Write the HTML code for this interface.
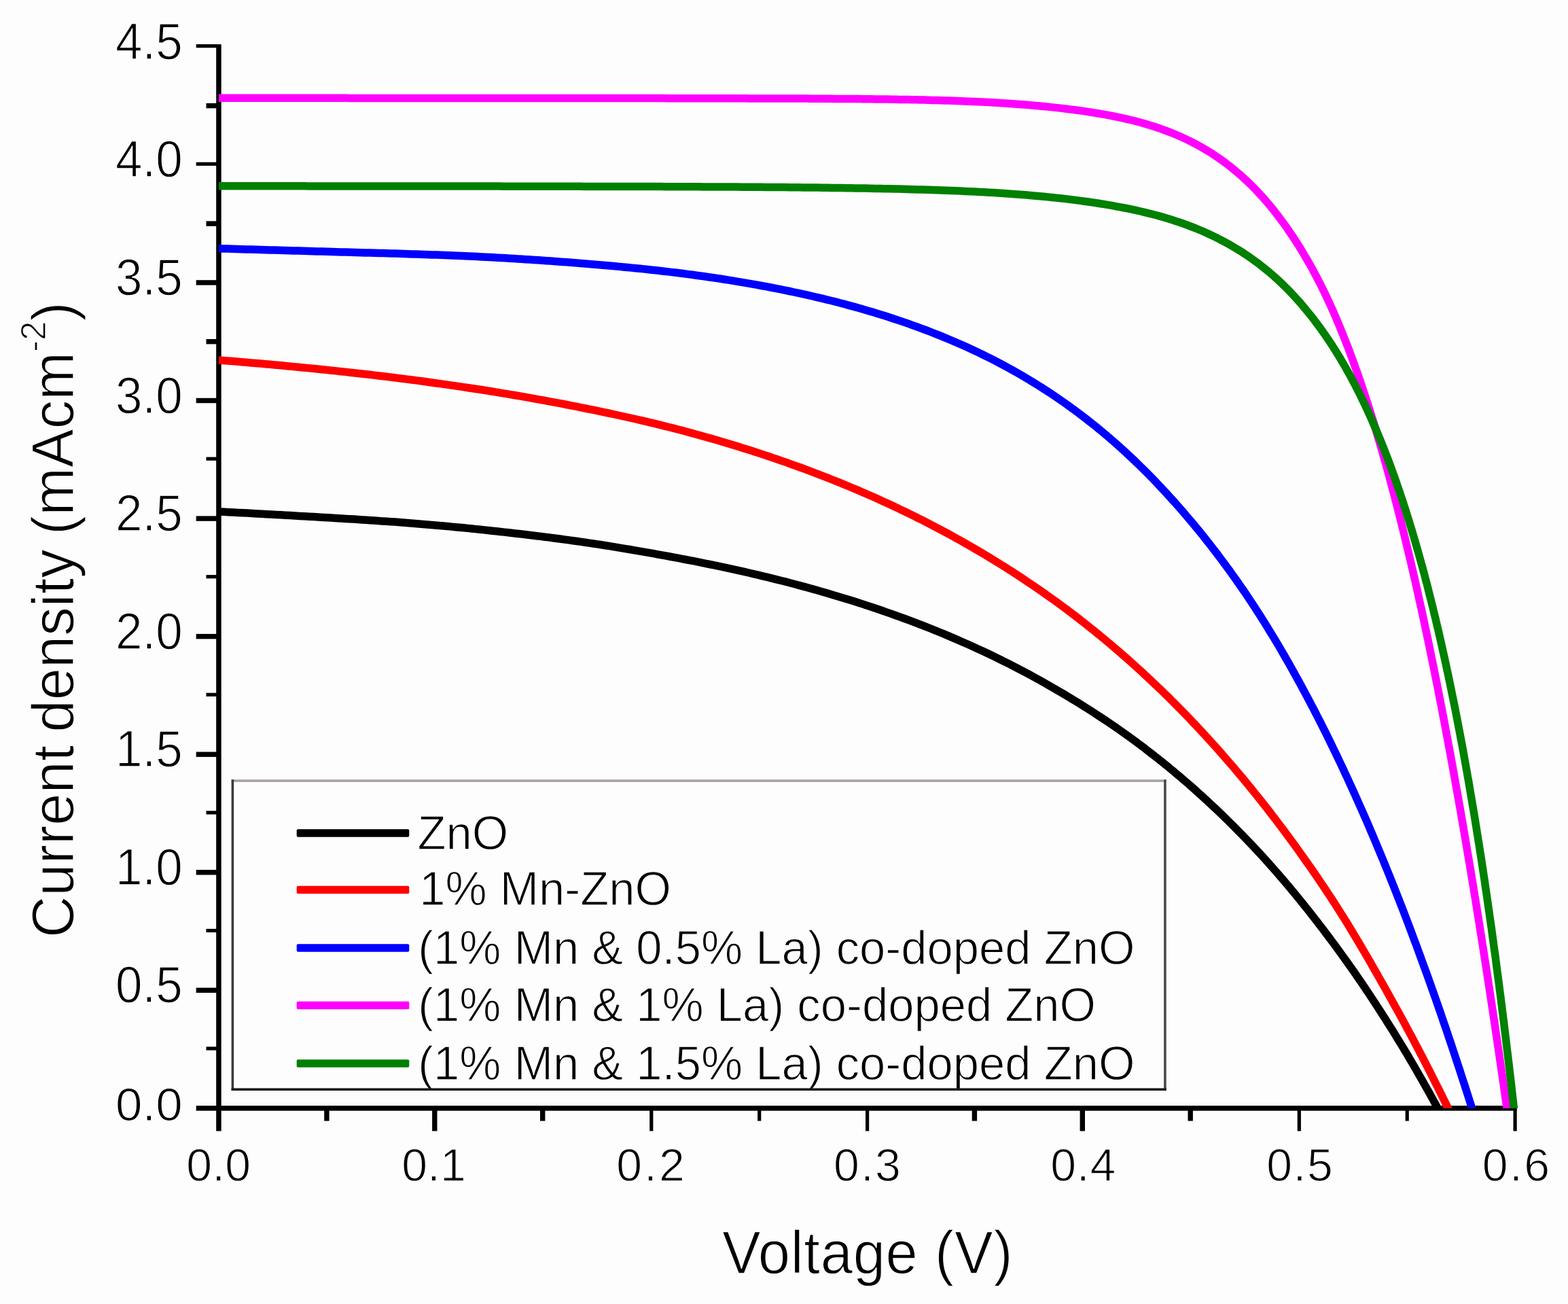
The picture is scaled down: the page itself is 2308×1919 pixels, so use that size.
<!DOCTYPE html>
<html lang="en">
<head>
<meta charset="utf-8">
<title>J-V curves</title>
<style>
html,body{margin:0;padding:0;background:#fdfdfd;}
body{width:2308px;height:1919px;overflow:hidden;}
svg{display:block;}
text{font-family:"Liberation Sans",Arial,Helvetica,sans-serif;fill:#000;stroke:#fdfdfd;stroke-width:1.25px;stroke-linejoin:round;}
.xt{font-size:68px;}
.yt{font-size:71px;}
.title{font-size:85px;}
.leg{font-size:68.8px;}
</style>
</head>
<body>
<svg width="2308" height="1919" viewBox="0 0 2308 1919">
<rect x="0" y="0" width="2308" height="1919" fill="#fdfdfd"/>
<defs><clipPath id="plot"><rect x="322" y="60" width="1912" height="1571"/></clipPath></defs>
<g fill="#000">
<rect x="318.2" y="65.2" width="7.5" height="1599.3"/>
<rect x="288.7" y="1627.2" width="1944.1" height="7.4"/>
<rect x="303.5" y="1540.4" width="15.7" height="5.2"/>
<rect x="288.7" y="1453.6" width="30.5" height="7.4"/>
<rect x="303.5" y="1366.9" width="15.7" height="5.2"/>
<rect x="288.7" y="1280.1" width="30.5" height="7.4"/>
<rect x="303.5" y="1193.3" width="15.7" height="5.2"/>
<rect x="288.7" y="1106.5" width="30.5" height="7.4"/>
<rect x="303.5" y="1019.7" width="15.7" height="5.2"/>
<rect x="288.7" y="932.9" width="30.5" height="7.4"/>
<rect x="303.5" y="846.1" width="15.7" height="5.2"/>
<rect x="288.7" y="759.4" width="30.5" height="7.4"/>
<rect x="303.5" y="672.6" width="15.7" height="5.2"/>
<rect x="288.7" y="585.8" width="30.5" height="7.4"/>
<rect x="303.5" y="499" width="15.7" height="7.4"/>
<rect x="288.7" y="412.2" width="30.5" height="7.4"/>
<rect x="303.5" y="325.4" width="15.7" height="7.4"/>
<rect x="288.7" y="238.7" width="30.5" height="5.2"/>
<rect x="303.5" y="151.9" width="15.7" height="7.4"/>
<rect x="288.7" y="65.1" width="30.5" height="5.2"/>
<rect x="477.2" y="1633.6" width="7.4" height="16"/>
<rect x="636.1" y="1633.6" width="7.4" height="30.9"/>
<rect x="795" y="1633.6" width="7.4" height="16"/>
<rect x="956.2" y="1633.6" width="5.2" height="30.9"/>
<rect x="1115.1" y="1633.6" width="5.2" height="16"/>
<rect x="1274" y="1633.6" width="5.2" height="30.9"/>
<rect x="1430.7" y="1633.6" width="7.4" height="16"/>
<rect x="1589.6" y="1633.6" width="7.4" height="30.9"/>
<rect x="1748.5" y="1633.6" width="7.4" height="16"/>
<rect x="1909.7" y="1633.6" width="5.2" height="30.9"/>
<rect x="2068.6" y="1633.6" width="5.2" height="16"/>
<rect x="2227.5" y="1633.6" width="5.2" height="30.9"/>
</g>
<g fill="none" stroke-width="11.5" stroke-linejoin="round" clip-path="url(#plot)">
<path d="M308.5 752.2 L315.5 752.6 L322.5 752.9 L329.5 753.3 L336.5 753.7 L343.5 754 L350.5 754.4 L357.5 754.8 L364.5 755.1 L371.4 755.5 L378.4 755.9 L385.4 756.3 L392.4 756.7 L399.4 757 L406.4 757.4 L413.4 757.8 L420.4 758.2 L427.3 758.6 L434.3 759 L441.3 759.4 L448.3 759.8 L455.3 760.2 L462.3 760.6 L469.3 761 L476.3 761.4 L483.3 761.8 L490.2 762.2 L497.2 762.7 L503.2 763 L509.2 763.4 L515.2 763.8 L521.2 764.1 L527.2 764.5 L533.2 764.9 L539.1 765.3 L545.1 765.7 L551.1 766.1 L557.1 766.5 L563.1 766.9 L569.1 767.3 L575.1 767.7 L581.1 768.1 L587 768.6 L593 769 L599 769.5 L605 769.9 L611 770.4 L617 770.9 L622.9 771.4 L628.9 771.9 L634.9 772.4 L640.9 772.9 L646.8 773.4 L652.8 774 L658.8 774.5 L664.8 775.1 L670.8 775.7 L676.7 776.3 L682.7 776.8 L688.7 777.4 L694.6 778 L700.6 778.6 L706.6 779.3 L712.5 779.9 L718.5 780.5 L724.5 781.2 L730.4 781.8 L736.4 782.5 L742.4 783.1 L748.3 783.8 L754.3 784.5 L760.3 785.2 L766.2 785.8 L772.2 786.5 L778.1 787.3 L784.1 788 L790.1 788.7 L796 789.4 L802 790.2 L807.9 790.9 L813.9 791.7 L819.8 792.5 L825.8 793.3 L831.7 794.1 L837.7 794.9 L843.6 795.7 L849.6 796.5 L855.5 797.4 L861.4 798.2 L867.4 799.1 L873.3 800 L879.3 800.9 L885.2 801.8 L891.1 802.7 L897 803.7 L903 804.6 L908.9 805.6 L914.8 806.6 L920.7 807.6 L926.6 808.5 L932.6 809.6 L938.5 810.6 L944.4 811.6 L950.3 812.6 L956.2 813.7 L962.1 814.7 L968 815.8 L973.9 816.9 L979.8 817.9 L985.7 819 L991.6 820.1 L997.5 821.2 L1003.4 822.3 L1009.3 823.5 L1015.2 824.6 L1021.1 825.7 L1027 826.9 L1032.9 828.1 L1038.8 829.3 L1044.6 830.5 L1050.5 831.7 L1056.4 832.9 L1062.3 834.1 L1068.1 835.4 L1075 836.9 L1081.8 838.4 L1088.6 839.9 L1095.5 841.4 L1102.3 843 L1109.1 844.6 L1115.9 846.2 L1122.7 847.8 L1129.5 849.4 L1136.3 851.1 L1143.1 852.8 L1149.9 854.5 L1156.7 856.2 L1163.5 858 L1170.2 859.8 L1177 861.6 L1183.8 863.4 L1190.5 865.3 L1197.3 867.1 L1204 869 L1210.7 871 L1217.4 872.9 L1224.2 874.9 L1230.9 876.9 L1237.6 878.9 L1244.3 880.9 L1251 883 L1257.6 885.1 L1264.3 887.2 L1271 889.4 L1277.6 891.6 L1284.3 893.8 L1290.9 896 L1297.5 898.3 L1304.1 900.6 L1310.7 902.9 L1317.3 905.2 L1323.9 907.6 L1330.5 910 L1337.1 912.4 L1343.6 914.9 L1350.2 917.4 L1356.7 919.9 L1363.2 922.4 L1369.7 925 L1376.2 927.6 L1382.7 930.3 L1389.2 932.9 L1395.6 935.6 L1402.1 938.4 L1408.5 941.1 L1414.9 943.9 L1421.3 946.7 L1427.7 949.6 L1434.1 952.5 L1440.5 955.4 L1446.8 958.3 L1453.1 961.3 L1459.5 964.3 L1465.8 967.4 L1472.1 970.5 L1478.3 973.6 L1484.6 976.7 L1490.8 979.9 L1497 983.1 L1503.2 986.3 L1508.6 989.1 L1513.8 991.9 L1519.1 994.8 L1524.4 997.7 L1529.6 1000.6 L1534.9 1003.5 L1540.1 1006.4 L1545.3 1009.4 L1550.5 1012.4 L1555.7 1015.4 L1560.9 1018.4 L1566.1 1021.5 L1571.2 1024.6 L1576.4 1027.7 L1581.5 1030.8 L1586.6 1033.9 L1591.7 1037.1 L1596.8 1040.3 L1601.8 1043.5 L1606.9 1046.7 L1611.9 1050 L1617 1053.3 L1622 1056.6 L1627 1059.9 L1632 1063.2 L1636.9 1066.6 L1641.9 1070 L1646.8 1073.4 L1651.7 1076.9 L1656.6 1080.4 L1661.5 1083.9 L1666.3 1087.4 L1671.2 1090.9 L1676 1094.5 L1680.8 1098.1 L1685.6 1101.7 L1690.3 1105.4 L1695.1 1109.1 L1699.8 1112.8 L1704.5 1116.5 L1709.2 1120.2 L1713.9 1124 L1718.6 1127.8 L1723.2 1131.6 L1727.8 1135.4 L1732.4 1139.3 L1737 1143.2 L1741.6 1147.1 L1746.1 1151 L1750.7 1154.9 L1755.2 1158.9 L1759.7 1162.9 L1764.1 1166.9 L1768.6 1170.9 L1773 1174.9 L1777.4 1179 L1781.8 1183.1 L1786.2 1187.2 L1790.6 1191.3 L1794.9 1195.4 L1799.3 1199.6 L1803.6 1203.8 L1807.9 1208 L1812.1 1212.2 L1816.4 1216.4 L1820.6 1220.7 L1824.8 1225 L1829 1229.2 L1833.2 1233.6 L1837.4 1237.9 L1841.5 1242.2 L1845.6 1246.6 L1849.7 1251 L1853.8 1255.4 L1857.9 1259.8 L1861.9 1264.3 L1865.9 1268.7 L1869.9 1273.2 L1873.9 1277.7 L1877.9 1282.2 L1881.8 1286.7 L1885.7 1291.3 L1889.6 1295.8 L1893.5 1300.4 L1897.4 1305 L1901.2 1309.6 L1905 1314.2 L1908.9 1318.9 L1912.6 1323.5 L1916.4 1328.2 L1920.2 1332.9 L1923.9 1337.5 L1927.7 1342.2 L1931.4 1347 L1935.1 1351.7 L1938.8 1356.4 L1942.4 1361.2 L1946.1 1365.9 L1949.7 1370.7 L1953.3 1375.5 L1956.9 1380.3 L1960.5 1385.1 L1964.1 1389.9 L1967.6 1394.7 L1971.2 1399.6 L1974.7 1404.5 L1978.2 1409.3 L1981.7 1414.2 L1985.2 1419.1 L1988.6 1424 L1992.7 1429.7 L1996.7 1435.5 L2000.6 1441.2 L2004.6 1447 L2008.5 1452.8 L2012.4 1458.6 L2016.3 1464.4 L2020.2 1470.3 L2024 1476.1 L2027.8 1482 L2031.6 1487.9 L2035.4 1493.8 L2039.2 1499.7 L2042.9 1505.6 L2046.6 1511.5 L2050.4 1517.4 L2054 1523.4 L2057.7 1529.4 L2061.3 1535.3 L2065 1541.3 L2068.6 1547.3 L2072.2 1553.3 L2075.7 1559.4 L2079.3 1565.4 L2082.8 1571.4 L2086.3 1577.5 L2089.8 1583.6 L2093.3 1589.6 L2096.7 1595.7 L2100.2 1601.8 L2103.6 1607.9 L2107 1614.1 L2110.4 1620.2 L2113.7 1626.3 L2117.1 1632.5 L2120.4 1638.6 L2123.7 1644.8 L2127 1651 L2130.3 1657.1 L2133.6 1663.3 L2136.8 1669.5" stroke="#000000"/>
<path d="M299.8 528.3 L306.8 528.8 L313.8 529.3 L320.7 529.9 L327.7 530.4 L334.7 531 L341.7 531.6 L348.6 532.1 L355.6 532.7 L362.6 533.3 L369.6 533.9 L376.5 534.5 L383.5 535.1 L390.5 535.7 L397.4 536.3 L404.4 537 L411.4 537.6 L418.4 538.3 L425.3 538.9 L432.3 539.6 L439.2 540.3 L446.2 540.9 L453.2 541.6 L460.1 542.3 L467.1 543 L474.1 543.7 L481 544.4 L488 545.2 L494.9 545.9 L501.9 546.7 L508.9 547.4 L515.8 548.2 L522.8 549 L529.7 549.7 L536.7 550.5 L543.6 551.3 L550.6 552.1 L557.5 553 L564.5 553.8 L571.4 554.6 L578.4 555.5 L585.3 556.4 L592.2 557.2 L599.2 558.1 L606.1 559 L613.1 559.9 L620 560.8 L626.9 561.8 L633.9 562.7 L640.8 563.7 L647.7 564.6 L654.6 565.6 L661.6 566.6 L668.5 567.6 L675.4 568.6 L682.3 569.6 L689.3 570.7 L696.2 571.7 L703.1 572.8 L710 573.8 L716.9 574.9 L723.8 576 L730.7 577.1 L737.6 578.3 L744.5 579.4 L751.4 580.6 L758.3 581.7 L765.2 582.9 L772.1 584.1 L779 585.3 L785.9 586.6 L792.8 587.8 L799.7 589 L806.5 590.3 L813.4 591.6 L820.3 592.9 L827.2 594.2 L834 595.5 L840.9 596.9 L847.8 598.2 L854.6 599.6 L861.5 601 L868.3 602.3 L875.2 603.7 L882 605.2 L888.9 606.6 L895.7 608 L902.6 609.5 L909.4 611 L916.2 612.5 L923.1 614 L929.9 615.5 L936.7 617 L943.5 618.6 L950.4 620.2 L957.2 621.8 L964 623.4 L970.8 625.1 L977.6 626.8 L984.3 628.5 L991.1 630.2 L997.9 632 L1004.7 633.7 L1011.4 635.5 L1018.2 637.4 L1024.9 639.2 L1031.7 641.1 L1038.4 643 L1045.1 644.9 L1051.9 646.8 L1058.6 648.8 L1065.3 650.7 L1072 652.7 L1078.7 654.8 L1085.4 656.8 L1092.1 658.9 L1098.7 661 L1105.4 663.1 L1112.1 665.2 L1118.7 667.4 L1125.4 669.6 L1132 671.8 L1138.6 674.1 L1145.2 676.3 L1151.8 678.6 L1158.5 680.9 L1165 683.3 L1171.6 685.6 L1178.2 688 L1184.8 690.4 L1191.3 692.9 L1197.9 695.3 L1204.4 697.8 L1210.9 700.3 L1217.5 702.9 L1224 705.5 L1230.5 708.1 L1236.9 710.7 L1243.4 713.3 L1249.9 716 L1256.3 718.7 L1262.8 721.4 L1269.2 724.2 L1275.6 727 L1282 729.8 L1288.4 732.6 L1294.8 735.5 L1301.2 738.4 L1307.5 741.3 L1313.9 744.3 L1320.2 747.2 L1326.5 750.3 L1332.8 753.3 L1339.1 756.4 L1345.4 759.4 L1351.6 762.6 L1357.9 765.7 L1364.1 768.9 L1370.3 772.1 L1376.5 775.3 L1382.7 778.6 L1388.9 781.9 L1395.1 785.2 L1401.2 788.5 L1407.3 791.9 L1413.5 795.3 L1419.5 798.8 L1425.6 802.2 L1431.7 805.7 L1437.7 809.3 L1443.8 812.8 L1449.8 816.4 L1455.8 820 L1461.7 823.6 L1467.7 827.3 L1473.6 831 L1479.6 834.7 L1485.5 838.5 L1491.4 842.2 L1497.2 846.1 L1503.1 849.9 L1508.9 853.8 L1514.7 857.7 L1520.5 861.6 L1526.3 865.5 L1532.1 869.5 L1537.8 873.5 L1543.5 877.6 L1549.2 881.6 L1554.9 885.7 L1560.6 889.8 L1566.2 894 L1571.8 898.2 L1577.4 902.4 L1582.9 906.6 L1588.5 910.9 L1594 915.2 L1599.5 919.5 L1605 923.9 L1610.5 928.3 L1615.9 932.7 L1621.3 937.1 L1626.7 941.6 L1632.1 946.1 L1637.4 950.6 L1642.7 955.1 L1648 959.7 L1653.3 964.3 L1658.6 968.9 L1663.8 973.6 L1669 978.2 L1674.2 982.9 L1679.4 987.6 L1684.6 992.4 L1689.7 997.2 L1694.8 1001.9 L1699.9 1006.8 L1704.9 1011.6 L1710 1016.4 L1715 1021.3 L1720 1026.2 L1725 1031.2 L1729.9 1036.1 L1734.8 1041.1 L1739.7 1046.1 L1744.6 1051.1 L1749.5 1056.1 L1754.3 1061.2 L1759.2 1066.3 L1763.9 1071.4 L1768.7 1076.5 L1773.5 1081.6 L1778.2 1086.8 L1782.9 1092 L1787.6 1097.2 L1792.3 1102.4 L1796.9 1107.6 L1801.5 1112.9 L1806.1 1118.2 L1810.7 1123.5 L1815.3 1128.8 L1819.8 1134.1 L1824.3 1139.5 L1828.8 1144.8 L1833.3 1150.2 L1837.7 1155.6 L1842.1 1161 L1846.5 1166.5 L1850.9 1171.9 L1855.3 1177.4 L1859.6 1182.9 L1864 1188.4 L1868.3 1193.9 L1872.5 1199.5 L1876.8 1205 L1881 1210.6 L1885.3 1216.2 L1889.5 1221.8 L1893.6 1227.4 L1897.8 1233 L1901.9 1238.7 L1906.1 1244.3 L1910.2 1250 L1914.2 1255.7 L1918.3 1261.4 L1922.3 1267.1 L1926.4 1272.8 L1930.4 1278.6 L1934.3 1284.3 L1938.3 1290.1 L1942.2 1295.9 L1946.2 1301.7 L1950.1 1307.5 L1953.9 1313.3 L1957.8 1319.2 L1961.6 1325 L1965.4 1330.9 L1969.2 1336.8 L1972.9 1342.7 L1976.7 1348.6 L1980.4 1354.6 L1984.1 1360.5 L1987.7 1366.5 L1991.3 1372.5 L1994.9 1378.5 L1998.5 1384.5 L2002.1 1390.5 L2005.6 1396.6 L2009.2 1402.6 L2012.7 1408.6 L2016.2 1414.7 L2019.7 1420.8 L2023.1 1426.8 L2026.6 1432.9 L2030.1 1439 L2033.5 1445.1 L2037 1451.2 L2040.4 1457.3 L2043.8 1463.4 L2047.2 1469.5 L2050.6 1475.6 L2054 1481.7 L2057.4 1487.8 L2060.8 1494 L2064.1 1500.1 L2067.5 1506.3 L2070.8 1512.4 L2074.1 1518.6 L2077.4 1524.7 L2080.7 1530.9 L2083.9 1537.1 L2087.2 1543.3 L2090.4 1549.5 L2093.7 1555.7 L2096.9 1561.9 L2100.1 1568.1 L2103.3 1574.4 L2106.4 1580.6 L2109.6 1586.8 L2112.7 1593.1 L2115.9 1599.3 L2119 1605.6 L2122.1 1611.9 L2125.2 1618.1 L2128.3 1624.4 L2131.3 1630.7 L2134.4 1637 L2137.4 1643.3 L2140.4 1649.6 L2143.4 1655.9 L2146.4 1662.3 L2149.4 1668.6" stroke="#ff0000"/>
<path d="M292.3 365.1 L299.3 365.3 L306.3 365.4 L313.3 365.6 L320.3 365.8 L327.3 366 L334.3 366.1 L341.3 366.3 L348.3 366.5 L355.3 366.7 L362.3 366.9 L369.3 367.1 L376.3 367.3 L383.3 367.5 L390.3 367.7 L397.3 367.9 L404.3 368.1 L411.3 368.3 L418.3 368.5 L425.3 368.7 L432.3 368.9 L439.3 369.1 L446.3 369.3 L453.3 369.5 L460.3 369.7 L467.3 369.9 L474.3 370.1 L481.3 370.3 L488.3 370.5 L495.3 370.7 L502.3 370.9 L509.2 371.1 L516.2 371.3 L523.2 371.5 L530.2 371.7 L537.2 371.9 L544.2 372 L551.2 372.2 L558.2 372.4 L564.2 372.6 L570.2 372.8 L576.2 372.9 L582.2 373.1 L588.2 373.3 L594.2 373.5 L600.2 373.7 L606.2 373.9 L612.2 374.1 L618.2 374.3 L624.2 374.5 L630.2 374.7 L636.2 374.9 L642.2 375.1 L648.2 375.3 L654.2 375.5 L660.2 375.8 L666.2 376 L672.2 376.3 L678.2 376.5 L684.2 376.8 L690.2 377 L696.1 377.3 L702.1 377.6 L708.1 377.9 L714.1 378.2 L720.1 378.5 L726.1 378.8 L732.1 379.2 L738.1 379.5 L744.1 379.8 L750.1 380.2 L756.1 380.5 L762.1 380.9 L768 381.3 L774 381.7 L780 382 L786 382.4 L792 382.8 L798 383.2 L804 383.7 L810 384.1 L815.9 384.5 L821.9 384.9 L827.9 385.4 L833.9 385.8 L839.9 386.3 L845.9 386.7 L851.8 387.2 L857.8 387.7 L863.8 388.2 L869.8 388.7 L875.8 389.2 L881.8 389.7 L887.7 390.2 L893.7 390.7 L899.7 391.3 L905.7 391.8 L911.6 392.4 L917.6 392.9 L923.6 393.5 L929.6 394.1 L935.5 394.7 L941.5 395.3 L947.5 395.9 L953.4 396.5 L959.4 397.2 L965.4 397.8 L971.3 398.5 L977.3 399.2 L983.3 399.9 L989.2 400.6 L995.2 401.3 L1001.1 402 L1007.1 402.8 L1013 403.6 L1019 404.3 L1024.9 405.2 L1030.9 406 L1036.8 406.8 L1042.8 407.7 L1048.7 408.5 L1054.6 409.4 L1060.6 410.3 L1066.5 411.2 L1072.4 412.2 L1078.4 413.1 L1084.3 414.1 L1090.2 415.1 L1096.1 416.1 L1102 417.1 L1107.9 418.2 L1113.8 419.2 L1120.7 420.5 L1127.6 421.7 L1134.5 423 L1141.4 424.4 L1148.2 425.7 L1155.1 427.1 L1161.9 428.5 L1168.8 430 L1175.6 431.4 L1182.5 432.9 L1189.3 434.4 L1196.1 436 L1202.9 437.6 L1209.7 439.2 L1216.5 440.8 L1223.3 442.5 L1230.1 444.2 L1236.9 446 L1243.7 447.7 L1250.4 449.6 L1257.2 451.4 L1263.9 453.3 L1270.6 455.2 L1277.3 457.2 L1284 459.1 L1290.7 461.2 L1297.4 463.2 L1304.1 465.3 L1310.7 467.5 L1317.4 469.7 L1324 471.9 L1330.6 474.1 L1337.2 476.4 L1343.8 478.8 L1350.4 481.2 L1356.9 483.6 L1363.5 486 L1370 488.5 L1376.5 491.1 L1383 493.7 L1389.5 496.3 L1395.9 499 L1402.3 501.7 L1408.8 504.5 L1415.2 507.3 L1421.5 510.1 L1427.9 513 L1434.2 516 L1440.5 518.9 L1446.8 522 L1453.1 525.1 L1459.3 528.2 L1465.6 531.4 L1471.7 534.6 L1477.9 537.9 L1484 541.2 L1490.2 544.6 L1496.2 548 L1502.3 551.5 L1508.3 555 L1514.3 558.6 L1520.3 562.2 L1526.2 565.9 L1532.2 569.6 L1538 573.4 L1543.9 577.2 L1549.7 581.1 L1555.5 585 L1561.3 588.9 L1567 592.9 L1572.7 597 L1578.3 601.1 L1584 605.2 L1589.5 609.4 L1595.1 613.6 L1600.6 617.9 L1606.1 622.2 L1611.6 626.6 L1617 631 L1622.4 635.4 L1627.7 639.9 L1633 644.4 L1638.3 649 L1643.6 653.6 L1648.8 658.3 L1654 663 L1659.1 667.7 L1664.2 672.5 L1669.3 677.3 L1674.3 682.1 L1679.3 687 L1684.3 691.9 L1689.2 696.8 L1694.1 701.8 L1699 706.8 L1703.8 711.9 L1708.6 717 L1713.4 722.1 L1718.1 727.2 L1722.8 732.4 L1727.5 737.5 L1732.2 742.8 L1736.8 748 L1741.4 753.3 L1745.9 758.6 L1750.5 763.9 L1755 769.2 L1759.4 774.6 L1763.9 780 L1768.3 785.4 L1772.7 790.9 L1777 796.4 L1781.4 801.9 L1785.6 807.4 L1789.9 812.9 L1794.1 818.5 L1798.3 824.1 L1802.5 829.7 L1806.6 835.3 L1810.8 841 L1814.8 846.7 L1818.9 852.4 L1822.9 858.1 L1826.9 863.9 L1830.9 869.6 L1834.8 875.4 L1838.7 881.3 L1842.6 887.1 L1846.4 892.9 L1850.2 898.8 L1854 904.7 L1857.7 910.6 L1861.5 916.5 L1865.2 922.5 L1868.8 928.4 L1872.5 934.4 L1876.1 940.4 L1879.7 946.4 L1883.3 952.4 L1886.8 958.5 L1890.3 964.5 L1893.8 970.6 L1897.3 976.7 L1900.7 982.8 L1904.1 988.9 L1907.5 995 L1910.9 1001.1 L1914.3 1007.3 L1917.6 1013.4 L1920.9 1019.6 L1924.2 1025.8 L1927.5 1031.9 L1930.7 1038.1 L1934 1044.3 L1937.2 1050.6 L1940.4 1056.8 L1943.6 1063 L1946.7 1069.3 L1949.9 1075.5 L1953 1081.8 L1956.1 1088.1 L1959.2 1094.4 L1962.2 1100.7 L1965.3 1107 L1968.3 1113.3 L1971.3 1119.6 L1974.3 1125.9 L1977.3 1132.3 L1980.2 1138.6 L1983.2 1144.9 L1986.1 1151.3 L1989 1157.7 L1991.9 1164 L1994.8 1170.4 L1997.7 1176.8 L2000.5 1183.2 L2003.4 1189.6 L2006.2 1196 L2009 1202.4 L2011.8 1208.8 L2014.6 1215.3 L2017.3 1221.7 L2020.1 1228.1 L2022.8 1234.6 L2025.5 1241 L2028.2 1247.5 L2030.9 1254 L2033.6 1260.4 L2036.3 1266.9 L2038.9 1273.4 L2041.6 1279.9 L2044.2 1286.3 L2046.8 1292.8 L2049.4 1299.3 L2052 1305.8 L2054.6 1312.3 L2057.1 1318.9 L2059.7 1325.4 L2062.2 1331.9 L2064.8 1338.4 L2067.3 1345 L2069.8 1351.5 L2072.3 1358 L2074.8 1364.6 L2077.2 1371.1 L2079.7 1377.7 L2082.1 1384.2 L2084.6 1390.8 L2087 1397.4 L2089.4 1403.9 L2091.8 1410.5 L2094.2 1417.1 L2096.6 1423.7 L2099 1430.2 L2101.4 1436.8 L2103.7 1443.4 L2106.1 1450 L2108.4 1456.6 L2110.8 1463.2 L2113.1 1469.8 L2115.4 1476.4 L2117.7 1483 L2120 1489.6 L2122.3 1496.3 L2124.5 1502.9 L2126.8 1509.5 L2129.1 1516.1 L2131.3 1522.8 L2133.5 1529.4 L2135.8 1536 L2138 1542.7 L2140.2 1549.3 L2142.4 1556 L2144.6 1562.6 L2146.8 1569.3 L2149 1575.9 L2151.1 1582.6 L2153.3 1589.2 L2155.5 1595.9 L2157.6 1602.5 L2159.8 1609.2 L2161.9 1615.9 L2164 1622.5 L2166.1 1629.2 L2168.2 1635.9 L2170.3 1642.6 L2172.4 1649.2 L2174.5 1655.9 L2176.6 1662.6" stroke="#0000ff"/>
<path d="M292.4 144.2 L298.4 144.2 L304.4 144.3 L310.4 144.3 L316.4 144.3 L322.4 144.3 L328.4 144.3 L334.4 144.3 L340.4 144.3 L346.4 144.3 L352.4 144.3 L358.4 144.3 L364.4 144.3 L370.4 144.3 L376.4 144.3 L382.4 144.3 L388.4 144.3 L394.4 144.3 L400.4 144.3 L406.4 144.3 L412.4 144.3 L418.4 144.3 L424.4 144.3 L430.4 144.3 L436.4 144.3 L442.4 144.3 L448.4 144.3 L454.4 144.3 L460.4 144.3 L466.4 144.3 L472.4 144.3 L478.4 144.3 L484.4 144.3 L490.4 144.3 L496.4 144.3 L502.4 144.3 L508.4 144.3 L514.4 144.4 L520.4 144.4 L526.4 144.4 L532.4 144.4 L538.4 144.4 L544.4 144.4 L550.4 144.4 L556.4 144.4 L562.4 144.4 L568.4 144.4 L574.4 144.4 L580.4 144.4 L586.4 144.4 L592.4 144.4 L598.4 144.4 L604.4 144.4 L610.4 144.4 L616.4 144.4 L622.4 144.4 L628.4 144.4 L634.4 144.4 L640.4 144.4 L646.4 144.4 L652.4 144.4 L658.4 144.4 L664.4 144.4 L670.4 144.4 L676.4 144.4 L682.4 144.4 L688.4 144.4 L694.4 144.4 L700.4 144.4 L706.4 144.4 L712.4 144.5 L718.4 144.5 L724.4 144.5 L730.4 144.5 L736.4 144.5 L742.4 144.5 L748.4 144.5 L754.4 144.5 L760.4 144.5 L766.4 144.5 L772.4 144.5 L778.4 144.5 L784.4 144.5 L790.4 144.5 L796.4 144.5 L802.4 144.5 L808.4 144.5 L814.4 144.5 L820.4 144.5 L826.4 144.5 L832.4 144.5 L838.4 144.5 L844.4 144.5 L850.4 144.5 L856.4 144.5 L862.4 144.5 L868.4 144.5 L874.4 144.6 L880.4 144.6 L886.4 144.6 L892.4 144.6 L898.4 144.6 L904.4 144.6 L910.4 144.6 L916.4 144.6 L922.4 144.6 L928.4 144.6 L934.4 144.6 L940.4 144.6 L946.4 144.6 L952.4 144.6 L958.4 144.6 L964.4 144.6 L970.4 144.6 L976.4 144.6 L982.4 144.7 L988.4 144.7 L994.4 144.7 L1000.4 144.7 L1006.4 144.7 L1012.4 144.7 L1018.4 144.7 L1024.4 144.7 L1030.4 144.7 L1036.4 144.7 L1042.4 144.7 L1048.4 144.7 L1054.4 144.8 L1060.4 144.8 L1066.4 144.8 L1072.4 144.8 L1078.4 144.8 L1084.4 144.8 L1090.4 144.8 L1096.4 144.8 L1102.4 144.9 L1108.4 144.9 L1114.4 144.9 L1120.4 144.9 L1126.4 144.9 L1132.4 144.9 L1138.4 145 L1144.4 145 L1150.4 145 L1156.4 145 L1162.4 145 L1168.4 145.1 L1174.4 145.1 L1180.4 145.1 L1186.4 145.1 L1192.4 145.2 L1198.4 145.2 L1204.4 145.2 L1210.4 145.3 L1216.4 145.3 L1222.4 145.3 L1228.4 145.4 L1234.4 145.4 L1240.4 145.4 L1246.4 145.5 L1252.4 145.5 L1258.4 145.6 L1264.4 145.6 L1270.4 145.7 L1276.4 145.7 L1282.4 145.8 L1288.4 145.9 L1294.4 145.9 L1300.4 146 L1306.4 146.1 L1312.4 146.2 L1318.4 146.3 L1324.4 146.4 L1330.4 146.5 L1336.4 146.6 L1342.4 146.7 L1348.4 146.8 L1354.4 147 L1360.4 147.1 L1366.4 147.2 L1372.4 147.4 L1378.4 147.6 L1384.4 147.7 L1390.4 147.9 L1396.4 148.1 L1402.4 148.3 L1408.4 148.5 L1414.4 148.8 L1420.4 149 L1426.4 149.2 L1432.4 149.5 L1438.4 149.8 L1444.4 150 L1450.4 150.3 L1456.3 150.6 L1462.3 151 L1468.3 151.3 L1474.3 151.7 L1480.3 152 L1486.3 152.4 L1493.3 152.9 L1500.3 153.4 L1507.2 154 L1514.2 154.6 L1521.2 155.2 L1528.2 155.8 L1535.1 156.4 L1542.1 157.1 L1549 157.9 L1556 158.6 L1562.9 159.4 L1569.9 160.2 L1576.8 161.1 L1583.8 162 L1590.7 162.9 L1597.6 163.9 L1604.5 165 L1611.4 166.1 L1618.3 167.2 L1625.2 168.4 L1632 169.7 L1638.9 171 L1645.7 172.4 L1652.5 173.8 L1659.3 175.4 L1666.1 177 L1672.9 178.7 L1679.6 180.5 L1686.3 182.4 L1693 184.4 L1699.6 186.5 L1706.2 188.7 L1712.8 191.1 L1719.3 193.5 L1725.8 196 L1732.2 198.7 L1738.6 201.5 L1744.9 204.4 L1751.1 207.4 L1757.3 210.5 L1763.4 213.8 L1769.5 217.2 L1775.5 220.7 L1781.4 224.3 L1787.2 228.1 L1793 232 L1798.7 236 L1804.3 240.1 L1809.8 244.3 L1815.2 248.7 L1820.5 253.1 L1825.8 257.6 L1831 262.3 L1836.1 267 L1841.1 271.8 L1846 276.8 L1850.8 281.8 L1855.5 286.9 L1860.2 292 L1864.8 297.3 L1869.3 302.6 L1873.7 308 L1878 313.5 L1882.2 319 L1886.4 324.6 L1890.5 330.2 L1894.6 335.9 L1898.5 341.7 L1902.5 347.5 L1906.3 353.3 L1910.1 359.2 L1913.8 365.1 L1917.4 371.1 L1921 377.1 L1924.5 383.1 L1928 389.2 L1931.4 395.3 L1934.7 401.4 L1938 407.6 L1941.2 413.8 L1944 419.2 L1946.6 424.6 L1949.3 430 L1951.9 435.4 L1954.4 440.8 L1956.9 446.2 L1959.4 451.7 L1961.9 457.2 L1964.3 462.7 L1966.7 468.2 L1969 473.7 L1971.4 479.3 L1973.6 484.8 L1975.9 490.4 L1978.1 495.9 L1980.3 501.5 L1982.5 507.1 L1984.7 512.7 L1986.8 518.3 L1988.9 523.9 L1991 529.6 L1993 535.2 L1995.1 540.9 L1997.1 546.5 L1999.1 552.2 L2001 557.8 L2003 563.5 L2004.9 569.2 L2006.8 574.9 L2008.7 580.6 L2010.6 586.3 L2012.5 592 L2014.3 597.7 L2016.1 603.4 L2017.9 609.2 L2019.7 614.9 L2021.5 620.6 L2023.3 626.4 L2025 632.1 L2026.7 637.8 L2028.4 643.6 L2030.2 649.3 L2031.8 655.1 L2033.5 660.9 L2035.2 666.6 L2036.8 672.4 L2038.4 678.2 L2040.1 684 L2041.7 689.7 L2043.3 695.5 L2044.9 701.3 L2046.4 707.1 L2048 712.9 L2049.5 718.7 L2051.1 724.5 L2052.6 730.3 L2054.1 736.1 L2055.6 741.9 L2057.1 747.7 L2058.6 753.5 L2060.1 759.4 L2061.5 765.2 L2063 771 L2064.4 776.8 L2065.9 782.7 L2067.3 788.5 L2068.7 794.3 L2070.1 800.1 L2071.5 806 L2072.9 811.8 L2074.3 817.7 L2075.7 823.5 L2077.1 829.3 L2078.4 835.2 L2079.8 841 L2081.1 846.9 L2082.5 852.7 L2083.8 858.6 L2085.1 864.4 L2086.4 870.3 L2087.7 876.2 L2089 882 L2090.3 887.9 L2091.6 893.7 L2092.9 899.6 L2094.2 905.5 L2095.4 911.3 L2096.7 917.2 L2097.9 923.1 L2099.2 928.9 L2100.4 934.8 L2101.7 940.7 L2102.9 946.5 L2104.1 952.4 L2105.3 958.3 L2106.5 964.2 L2107.7 970.1 L2108.9 975.9 L2110.1 981.8 L2111.3 987.7 L2112.5 993.6 L2113.7 999.5 L2114.8 1005.3 L2116 1011.2 L2117.2 1017.1 L2118.3 1023 L2119.5 1028.9 L2120.6 1034.8 L2121.8 1040.7 L2122.9 1046.6 L2124 1052.5 L2125.2 1058.4 L2126.3 1064.3 L2127.4 1070.1 L2128.5 1076 L2129.6 1081.9 L2130.7 1087.8 L2131.8 1093.7 L2132.9 1099.6 L2134 1105.5 L2135.1 1111.4 L2136.2 1117.3 L2137.3 1123.2 L2138.3 1129.1 L2139.4 1135.1 L2140.5 1141 L2141.5 1146.9 L2142.6 1152.8 L2143.6 1158.7 L2144.7 1164.6 L2145.7 1170.5 L2146.8 1176.4 L2147.8 1182.3 L2148.9 1188.2 L2149.9 1194.1 L2150.9 1200 L2151.9 1206 L2153 1211.9 L2154 1217.8 L2155 1223.7 L2156 1229.6 L2157 1235.5 L2158 1241.4 L2159 1247.4 L2160 1253.3 L2161 1259.2 L2162 1265.1 L2163 1271 L2164 1276.9 L2165 1282.9 L2165.9 1288.8 L2166.9 1294.7 L2167.9 1300.6 L2168.9 1306.5 L2169.8 1312.5 L2170.8 1318.4 L2171.8 1324.3 L2172.7 1330.2 L2173.7 1336.2 L2174.6 1342.1 L2175.6 1348 L2176.5 1353.9 L2177.5 1359.9 L2178.4 1365.8 L2179.3 1371.7 L2180.3 1377.6 L2181.2 1383.6 L2182.1 1389.5 L2183.1 1395.4 L2184 1401.4 L2184.9 1407.3 L2185.8 1413.2 L2186.8 1419.1 L2187.7 1425.1 L2188.6 1431 L2189.5 1436.9 L2190.4 1442.9 L2191.3 1448.8 L2192.2 1454.7 L2193.1 1460.7 L2194 1466.6 L2194.9 1472.5 L2195.8 1478.5 L2196.7 1484.4 L2197.6 1490.3 L2198.5 1496.3 L2199.4 1502.2 L2200.3 1508.1 L2201.1 1514.1 L2202 1520 L2202.9 1525.9 L2203.8 1531.9 L2204.6 1537.8 L2205.5 1543.7 L2206.4 1549.7 L2207.3 1555.6 L2208.1 1561.6 L2209 1567.5 L2209.8 1573.4 L2210.7 1579.4 L2211.6 1585.3 L2212.4 1591.2 L2213.3 1597.2 L2214.1 1603.1 L2215 1609.1 L2215.8 1615 L2216.7 1620.9 L2217.5 1626.9 L2218.3 1632.8 L2219.2 1638.8 L2220 1644.7 L2220.9 1650.6 L2221.7 1656.6 L2222.5 1662.5 L2223.4 1668.5" stroke="#ff00ff"/>
<path d="M321.8 273.7 L328.8 273.7 L335.8 273.8 L342.8 273.8 L349.8 273.8 L356.8 273.8 L363.8 273.8 L370.8 273.8 L377.8 273.8 L384.8 273.8 L391.8 273.8 L398.8 273.8 L405.8 273.8 L412.8 273.8 L419.8 273.8 L426.8 273.8 L433.8 273.8 L440.8 273.8 L447.8 273.8 L454.8 273.9 L461.8 273.9 L468.8 273.9 L475.8 273.9 L482.8 273.9 L489.8 273.9 L496.8 273.9 L503.8 273.9 L510.8 273.9 L517.8 273.9 L524.8 273.9 L531.8 273.9 L538.8 273.9 L545.8 273.9 L552.8 273.9 L559.8 274 L566.8 274 L573.8 274 L580.8 274 L587.8 274 L594.8 274 L601.8 274 L608.8 274 L615.8 274 L622.8 274 L629.8 274 L636.8 274 L643.8 274 L650.8 274 L657.8 274.1 L664.8 274.1 L671.8 274.1 L678.8 274.1 L685.8 274.1 L692.8 274.1 L699.8 274.1 L706.8 274.1 L713.8 274.1 L720.8 274.1 L727.8 274.1 L734.8 274.1 L741.8 274.2 L748.8 274.2 L755.8 274.2 L762.8 274.2 L769.8 274.2 L776.8 274.2 L783.8 274.2 L790.8 274.2 L797.8 274.2 L804.8 274.3 L811.8 274.3 L818.8 274.3 L825.8 274.3 L832.8 274.3 L839.8 274.3 L846.8 274.3 L853.8 274.3 L860.8 274.4 L867.8 274.4 L874.8 274.4 L881.8 274.4 L888.8 274.4 L895.8 274.4 L902.8 274.4 L909.8 274.5 L916.8 274.5 L923.8 274.5 L930.8 274.5 L937.8 274.5 L944.8 274.5 L951.8 274.6 L958.8 274.6 L965.8 274.6 L972.8 274.6 L979.8 274.7 L986.8 274.7 L993.8 274.7 L1000.8 274.7 L1007.8 274.8 L1014.8 274.8 L1021.8 274.8 L1028.8 274.8 L1035.8 274.9 L1042.8 274.9 L1049.8 274.9 L1056.8 275 L1063.8 275 L1070.8 275 L1077.8 275.1 L1084.8 275.1 L1091.8 275.2 L1098.8 275.2 L1105.8 275.2 L1112.8 275.3 L1119.8 275.3 L1126.8 275.4 L1133.8 275.4 L1140.8 275.5 L1147.8 275.6 L1154.8 275.6 L1161.8 275.7 L1168.8 275.7 L1175.8 275.8 L1182.8 275.9 L1189.8 275.9 L1196.8 276 L1203.8 276.1 L1210.8 276.2 L1217.8 276.3 L1224.8 276.4 L1231.8 276.5 L1238.8 276.6 L1245.8 276.7 L1252.8 276.8 L1259.8 276.9 L1266.8 277 L1273.8 277.1 L1280.8 277.2 L1287.8 277.4 L1294.8 277.5 L1301.8 277.7 L1308.8 277.8 L1315.7 278 L1322.7 278.1 L1329.7 278.3 L1336.7 278.5 L1343.7 278.7 L1350.7 278.9 L1357.7 279.1 L1364.7 279.3 L1371.7 279.5 L1378.7 279.8 L1385.7 280 L1392.7 280.3 L1399.7 280.6 L1406.7 280.8 L1413.7 281.1 L1420.7 281.4 L1427.7 281.8 L1434.7 282.1 L1441.7 282.5 L1448.7 282.8 L1455.6 283.2 L1462.6 283.6 L1469.6 284.1 L1476.6 284.5 L1483.6 285 L1490.6 285.5 L1497.6 286 L1504.5 286.5 L1511.5 287.1 L1518.5 287.7 L1524.5 288.2 L1530.4 288.7 L1536.4 289.3 L1542.4 289.9 L1548.4 290.5 L1554.3 291.1 L1560.3 291.8 L1566.2 292.4 L1572.2 293.1 L1578.2 293.9 L1584.1 294.6 L1590.1 295.4 L1596 296.2 L1602 297 L1607.9 297.9 L1613.8 298.8 L1619.8 299.7 L1625.7 300.7 L1631.6 301.7 L1637.5 302.7 L1643.4 303.8 L1649.3 304.9 L1655.2 306 L1661.1 307.2 L1667 308.4 L1672.8 309.7 L1678.7 311 L1684.6 312.4 L1690.4 313.8 L1696.2 315.3 L1702 316.8 L1707.8 318.4 L1713.6 320.1 L1719.4 321.8 L1725.1 323.6 L1730.8 325.4 L1736.5 327.3 L1742.2 329.3 L1747.9 331.4 L1753.5 333.5 L1759.1 335.7 L1764.7 338 L1770.3 340.3 L1775.8 342.8 L1781.2 345.3 L1786.7 347.9 L1792.1 350.5 L1797.5 353.3 L1802.8 356.1 L1808.1 359 L1813.3 362 L1818.5 365.1 L1823.7 368.2 L1828.8 371.4 L1833.8 374.7 L1838.8 378.1 L1843.7 381.6 L1848.6 385.1 L1853.5 388.7 L1858.2 392.4 L1862.9 396.2 L1867.6 400 L1872.2 404 L1876.7 407.9 L1881.2 412 L1885.6 416.1 L1889.9 420.3 L1894.2 424.5 L1898.4 428.8 L1902.5 433.2 L1906.6 437.6 L1910.7 442.1 L1914.7 446.6 L1918.6 451.2 L1922.4 455.8 L1926.2 460.5 L1930 465.2 L1933.7 469.9 L1937.3 474.7 L1940.9 479.5 L1944.5 484.4 L1948 489.3 L1951.4 494.2 L1954.8 499.2 L1958.1 504.2 L1961.4 509.2 L1964.6 514.3 L1967.8 519.4 L1971 524.5 L1974.1 529.7 L1977.1 534.8 L1980.1 540 L1983.1 545.3 L1986 550.5 L1988.9 555.8 L1991.7 561.1 L1994.5 566.4 L1997.3 571.8 L2000 577.1 L2002.7 582.5 L2005.3 587.9 L2007.9 593.3 L2010.5 598.7 L2013 604.2 L2015.5 609.6 L2018 615.1 L2020.4 620.6 L2022.8 626.1 L2025.2 631.6 L2027.5 637.2 L2029.8 642.7 L2032.1 648.3 L2034.3 653.8 L2036.6 659.4 L2038.8 665 L2040.9 670.6 L2043.1 676.2 L2045.2 681.8 L2047.3 687.5 L2049.3 693.1 L2051.4 698.8 L2053.4 704.4 L2055.4 710.1 L2057.3 715.8 L2059.3 721.4 L2061.2 727.1 L2063.1 732.8 L2065 738.5 L2066.8 744.2 L2068.7 749.9 L2070.5 755.7 L2072.3 761.4 L2074.1 767.1 L2075.8 772.9 L2077.6 778.6 L2079.3 784.3 L2081 790.1 L2082.7 795.9 L2084.4 801.6 L2086 807.4 L2087.7 813.2 L2089.3 819 L2090.9 824.7 L2092.5 830.5 L2094.1 836.3 L2095.7 842.1 L2097.2 847.9 L2098.7 853.7 L2100.3 859.5 L2101.8 865.3 L2103.2 871.1 L2104.7 877 L2106.2 882.8 L2107.6 888.6 L2109.1 894.4 L2110.5 900.3 L2111.9 906.1 L2113.3 911.9 L2114.7 917.8 L2116.1 923.6 L2117.5 929.5 L2118.8 935.3 L2120.1 941.1 L2121.5 947 L2122.8 952.9 L2124.1 958.7 L2125.4 964.6 L2126.7 970.4 L2128 976.3 L2129.2 982.2 L2130.5 988 L2131.8 993.9 L2133 999.8 L2134.2 1005.6 L2135.4 1011.5 L2136.6 1017.4 L2137.8 1023.3 L2139 1029.2 L2140.2 1035 L2141.4 1040.9 L2142.6 1046.8 L2143.7 1052.7 L2144.9 1058.6 L2146 1064.5 L2147.1 1070.4 L2148.3 1076.3 L2149.4 1082.2 L2150.5 1088.1 L2151.6 1094 L2152.7 1099.9 L2153.8 1105.8 L2154.9 1111.7 L2155.9 1117.6 L2157 1123.5 L2158 1129.4 L2159.1 1135.3 L2160.1 1141.2 L2161.2 1147.1 L2162.2 1153 L2163.2 1158.9 L2164.2 1164.9 L2165.2 1170.8 L2166.2 1176.7 L2167.2 1182.6 L2168.2 1188.5 L2169.2 1194.4 L2170.2 1200.4 L2171.2 1206.3 L2172.1 1212.2 L2173.1 1218.1 L2174 1224.1 L2175 1230 L2175.9 1235.9 L2176.9 1241.8 L2177.8 1247.8 L2178.7 1253.7 L2179.7 1259.6 L2180.6 1265.6 L2181.5 1271.5 L2182.4 1277.4 L2183.3 1283.3 L2184.2 1289.3 L2185.1 1295.2 L2185.9 1301.1 L2186.8 1307.1 L2187.7 1313 L2188.6 1319 L2189.4 1324.9 L2190.3 1330.8 L2191.1 1336.8 L2192 1342.7 L2192.8 1348.7 L2193.7 1354.6 L2194.5 1360.5 L2195.4 1366.5 L2196.2 1372.4 L2197 1378.4 L2197.8 1384.3 L2198.6 1390.3 L2199.4 1396.2 L2200.3 1402.1 L2201.1 1408.1 L2201.9 1414 L2202.6 1420 L2203.4 1425.9 L2204.2 1431.9 L2205 1437.8 L2205.8 1443.8 L2206.6 1449.7 L2207.3 1455.7 L2208.1 1461.6 L2208.9 1467.6 L2209.6 1473.5 L2210.4 1479.5 L2211.1 1485.4 L2211.9 1491.4 L2212.6 1497.4 L2213.4 1503.3 L2214.1 1509.3 L2214.8 1515.2 L2215.6 1521.2 L2216.3 1527.1 L2217 1533.1 L2217.7 1539 L2218.4 1545 L2219.2 1551 L2219.9 1556.9 L2220.6 1562.9 L2221.3 1568.8 L2222 1574.8 L2222.7 1580.8 L2223.4 1586.7 L2224.1 1592.7 L2224.8 1598.6 L2225.4 1604.6 L2226.1 1610.6 L2226.8 1616.5 L2227.5 1622.5 L2228.1 1628.4 L2228.8 1634.4 L2229.5 1640.4 L2230.2 1646.3 L2230.8 1652.3 L2231.5 1658.3 L2232.1 1664.2" stroke="#008000"/>
</g>
<g>
<rect x="340.6" y="1147.2" width="1376.1" height="3.6" fill="#a8a0a8"/>
<rect x="340.6" y="1147.2" width="3.6" height="457.8" fill="#3c3a3e"/>
<rect x="1713.1" y="1147.2" width="3.6" height="457.8" fill="#4a464c"/>
<rect x="436.7" y="1220.2" width="165.6" height="11.5" rx="2" fill="#000000"/>
<text class="leg" transform="translate(614.6 1249.6) scale(1.0 1.027)">ZnO</text>
<rect x="436.7" y="1303.8" width="165.6" height="11.5" rx="2" fill="#ff0000"/>
<text class="leg" transform="translate(617.2 1332) scale(1.0 1.027)">1% Mn-ZnO</text>
<rect x="436.7" y="1389.2" width="165.6" height="11.5" rx="2" fill="#0000ff"/>
<text class="leg" transform="translate(615.2 1418.6) scale(1.0 1.027)">(1% Mn &amp; 0.5% La) co-doped ZnO</text>
<rect x="436.7" y="1473.8" width="165.6" height="11.5" rx="2" fill="#ff00ff"/>
<text class="leg" transform="translate(615.2 1503) scale(1.0 1.027)">(1% Mn &amp; 1% La) co-doped ZnO</text>
<rect x="436.7" y="1559.2" width="165.6" height="11.5" rx="2" fill="#008000"/>
<text class="leg" transform="translate(615.2 1588.6) scale(1.0 1.027)">(1% Mn &amp; 1.5% La) co-doped ZnO</text>
<rect x="340.6" y="1601.4" width="1376.1" height="3.6" fill="#1c1c1c"/>
</g>
<g>
<text class="yt" transform="translate(268.8 1648.9) scale(1.0 0.965)" text-anchor="end">0.0</text>
<text class="yt" transform="translate(268.8 1475.33) scale(1.0 1.062)" text-anchor="end">0.5</text>
<text class="yt" transform="translate(268.8 1301.77) scale(1.0 1.062)" text-anchor="end">1.0</text>
<text class="yt" transform="translate(268.8 1128.2) scale(1.0 1.062)" text-anchor="end">1.5</text>
<text class="yt" transform="translate(268.8 954.63) scale(1.0 1.062)" text-anchor="end">2.0</text>
<text class="yt" transform="translate(268.8 781.07) scale(1.0 1.062)" text-anchor="end">2.5</text>
<text class="yt" transform="translate(268.8 607.5) scale(1.0 1.062)" text-anchor="end">3.0</text>
<text class="yt" transform="translate(268.8 433.93) scale(1.0 1.062)" text-anchor="end">3.5</text>
<text class="yt" transform="translate(268.8 260.37) scale(1.0 1.062)" text-anchor="end">4.0</text>
<text class="yt" transform="translate(268.8 86.8) scale(1.0 1.062)" text-anchor="end">4.5</text>
<text class="xt" transform="translate(321.8 1737.9) scale(1.0 1.012)" text-anchor="middle" letter-spacing="0.2">0.0</text>
<text class="xt" transform="translate(638.5 1737.9) scale(1.0 1.012)" text-anchor="middle">0.1</text>
<text class="xt" transform="translate(959 1737.9) scale(1.0 1.012)" text-anchor="middle" letter-spacing="3.0">0.2</text>
<text class="xt" transform="translate(1277.5 1737.9) scale(1.0 1.012)" text-anchor="middle" letter-spacing="2.2">0.3</text>
<text class="xt" transform="translate(1594.65 1737.9) scale(1.0 1.012)" text-anchor="middle" letter-spacing="0.7">0.4</text>
<text class="xt" transform="translate(1913.75 1737.9) scale(1.0 1.012)" text-anchor="middle" letter-spacing="1.5">0.5</text>
<text class="xt" transform="translate(2232.55 1737.9) scale(1.0 1.012)" text-anchor="middle" letter-spacing="2.3">0.6</text>
</g>
<text class="title" transform="translate(1277.2 1873.5) scale(1.0 1.05)" text-anchor="middle" letter-spacing="0.7">Voltage (V)</text>
<text class="title" transform="translate(108 1380) rotate(-90) scale(1.0 1.027)">Current<tspan dx="-4.5"> density</tspan><tspan dx="-2.5"> (mAcm</tspan><tspan font-size="51" dy="-40">-2</tspan><tspan dy="40">)</tspan></text>
</svg>
</body>
</html>
